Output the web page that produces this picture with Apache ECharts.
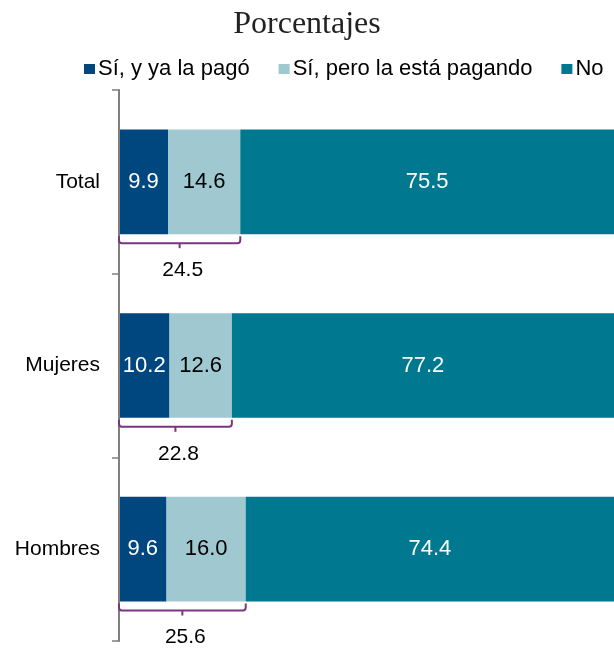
<!DOCTYPE html>
<html>
<head>
<meta charset="utf-8">
<script src="https://cdn.jsdelivr.net/npm/echarts@6/dist/echarts.min.js"></script>
<style>
  html, body { margin: 0; padding: 0; background: #fff; }
  #chart { width: 614px; height: 650px; }
</style>
</head>
<body>
<div id="chart"></div>
<script>
// Categories and shares (%)
const categories = ['Total', 'Mujeres', 'Hombres'];
const seriesNames = ['Sí, y ya la pagó', 'Sí, pero la está pagando', 'No'];
const yaPagada = [9.9, 10.2, 9.6];
const pagando = [14.6, 12.6, 16.0];
const noValues = [75.5, 77.2, 74.4];
// Combined "Sí" share shown beneath each bar
const siTotal = [24.5, 22.8, 25.6];

const colors = ['#00467f', '#9fc8d0', '#00788f'];
const labelColors = ['#ffffff', '#000000', '#ffffff'];
const BAR_RATIO = 0.57;

const chart = echarts.init(document.getElementById('chart'), null, { renderer: 'canvas' });

function barSeries(name, data, i) {
  return {
    name: name,
    type: 'bar',
    stack: 'total',
    data: data,
    barWidth: (BAR_RATIO * 100) + '%',
    itemStyle: { color: colors[i] },
    label: {
      show: true,
      position: 'inside',
      color: labelColors[i],
      fontFamily: 'Liberation Sans',
      fontSize: 22,
      formatter: p => p.value.toFixed(1)
    },
    emphasis: { disabled: true }
  };
}

// Bracket under the first two segments with the combined value
function renderBracket(params, api) {
  const idx = api.value(1);
  const sum = api.value(0);
  const p0 = api.coord([0, idx]);
  const p1 = api.coord([sum, idx]);
  const band = api.size([0, 1])[1];
  const yb = p0[1] + band * BAR_RATIO / 2;
  const x0 = p0[0], x1 = p1[0];
  const xm = (x0 + x1) / 2;
  const stroke = { stroke: '#7a3580', lineWidth: 2, fill: null };
  return {
    type: 'group',
    children: [
      {
        type: 'path',
        shape: {
          pathData: 'M' + x0 + ' ' + (yb + 2) +
            ' L' + x0 + ' ' + (yb + 6) +
            ' Q' + x0 + ' ' + (yb + 9) + ' ' + (x0 + 3) + ' ' + (yb + 9) +
            ' L' + (x1 - 3) + ' ' + (yb + 9) +
            ' Q' + x1 + ' ' + (yb + 9) + ' ' + x1 + ' ' + (yb + 6) +
            ' L' + x1 + ' ' + (yb + 2)
        },
        style: stroke
      },
      {
        type: 'line',
        shape: { x1: xm, y1: yb + 9, x2: xm, y2: yb + 14 },
        style: { stroke: '#7a3580', lineWidth: 2 }
      },
      {
        type: 'text',
        style: {
          text: sum.toFixed(1),
          x: xm + 3,
          y: yb + 36,
          align: 'center',
          verticalAlign: 'middle',
          fontFamily: 'Liberation Sans',
          fontSize: 21,
          fill: '#000'
        }
      }
    ]
  };
}

const option = {
  animation: false,
  title: {
    text: 'Porcentajes',
    left: 'center',
    top: 4,
    textStyle: {
      fontFamily: 'Liberation Serif',
      fontWeight: 'normal',
      fontSize: 32,
      color: '#222'
    }
  },
  legend: {
    data: seriesNames,
    left: 84,
    top: 58,
    width: 528,
    padding: 0,
    itemWidth: 11,
    itemHeight: 10,
    itemGap: 29,
    icon: 'rect',
    textStyle: {
      fontFamily: 'Liberation Sans',
      fontSize: 22,
      color: '#000',
      padding: [0, 0, 0, -2]
    }
  },
  grid: { left: 119, width: 497, top: 90, bottom: 9, containLabel: false },
  xAxis: {
    type: 'value',
    min: 0,
    max: 100,
    show: false
  },
  yAxis: {
    type: 'category',
    data: categories,
    inverse: true,
    axisLine: { show: true, lineStyle: { color: '#7f7f7f', width: 2 } },
    axisTick: { show: true, length: 7, lineStyle: { color: '#7f7f7f', width: 1.5 } },
    axisLabel: {
      fontFamily: 'Liberation Sans',
      fontSize: 21,
      color: '#000',
      margin: 19
    },
    z: 5
  },
  series: [
    barSeries(seriesNames[0], yaPagada, 0),
    barSeries(seriesNames[1], pagando, 1),
    barSeries(seriesNames[2], noValues, 2),
    {
      type: 'custom',
      renderItem: renderBracket,
      data: siTotal.map((v, i) => [v, i]),
      encode: { x: 0, y: 1 },
      clip: false,
      silent: true,
      z: 10
    }
  ]
};

chart.setOption(option);
</script>
</body>
</html>
